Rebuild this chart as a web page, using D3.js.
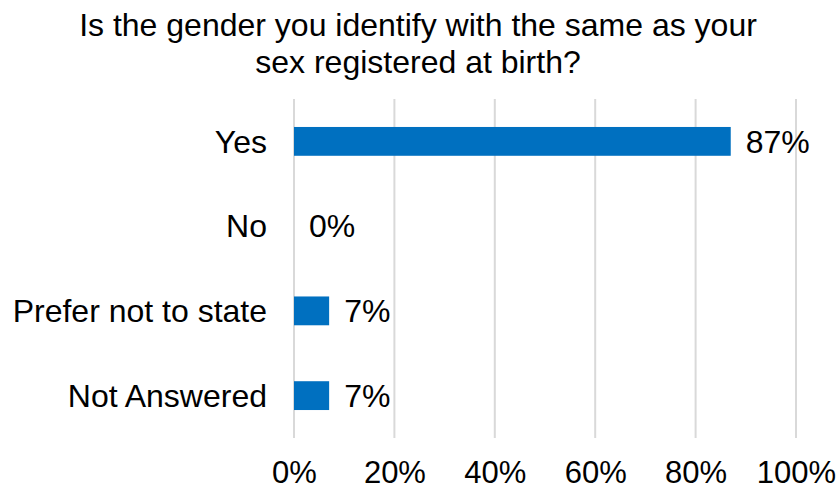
<!DOCTYPE html>
<html>
<head>
<meta charset="utf-8">
<script src="https://cdn.jsdelivr.net/npm/d3@7"></script>
<style>
  html, body { margin: 0; padding: 0; background: #fff; }
  svg { display: block; font-family: Arial, "Liberation Sans", sans-serif; }
</style>
</head>
<body>
<svg id="chart" width="840" height="490"></svg>
<script>
const titleLines = ["Is the gender you identify with the same as your", "sex registered at birth?"];
const categories = ["Yes", "No", "Prefer not to state", "Not Answered"];
const values = [0.87, 0, 0.07, 0.07];
const valueLabels = ["87%", "0%", "7%", "7%"];
const tickValues = [0, 0.2, 0.4, 0.6, 0.8, 1.0];
const tickLabels = ["0%", "20%", "40%", "60%", "80%", "100%"];

const svg = d3.select("#chart");
const W = 840, H = 490;
const plot = { left: 294, right: 796, top: 99, bottom: 438 };

svg.append("rect").attr("width", W).attr("height", H).attr("fill", "#fff");

const x = d3.scaleLinear().domain([0, 1]).range([plot.left, plot.right]);
const y = d3.scaleBand().domain(categories).range([plot.top, plot.bottom])
  .paddingInner(0.66).paddingOuter(0.33);

// Title
const title = svg.append("text")
  .attr("x", 418).attr("text-anchor", "middle")
  .attr("font-size", 32).attr("fill", "#000");
titleLines.forEach((t, i) => {
  title.append("tspan").attr("x", 418).attr("y", 36 + i * 37).text(t);
});

// Gridlines
svg.append("g").selectAll("line").data(tickValues).join("line")
  .attr("x1", d => x(d)).attr("x2", d => x(d))
  .attr("y1", plot.top).attr("y2", plot.bottom)
  .attr("stroke", "#d9d9d9").attr("stroke-width", 2);

// X axis tick labels
const xAxis = d3.axisBottom(x).tickValues(tickValues)
  .tickFormat((d, i) => tickLabels[i]).tickSize(0).tickPadding(0);
const gx = svg.append("g").attr("transform", `translate(0, ${plot.bottom})`).call(xAxis);
gx.select(".domain").remove();
gx.selectAll("text").attr("font-size", 31).attr("fill", "#000")
  .attr("font-family", "Arial, 'Liberation Sans', sans-serif")
  .attr("dy", null).attr("y", 45);

// Y axis category labels
const yAxis = d3.axisLeft(y).tickSize(0).tickPadding(0);
const gy = svg.append("g").attr("transform", `translate(${plot.left - 27}, 0)`).call(yAxis);
gy.select(".domain").remove();
gy.selectAll("text").attr("font-size", 32).attr("fill", "#000")
  .attr("font-family", "Arial, 'Liberation Sans', sans-serif")
  .attr("dy", "0.35em");

// Bars
svg.append("g").selectAll("rect").data(categories).join("rect")
  .attr("x", x(0))
  .attr("y", d => y(d))
  .attr("width", (d, i) => x(values[i]) - x(0))
  .attr("height", y.bandwidth())
  .attr("fill", "#0070C0");

// Value labels
svg.append("g").selectAll("text").data(categories).join("text")
  .attr("x", (d, i) => x(values[i]) + 15)
  .attr("y", d => y(d) + y.bandwidth() / 2)
  .attr("dy", "0.35em")
  .attr("font-size", 32).attr("fill", "#000")
  .text((d, i) => valueLabels[i]);
</script>
</body>
</html>
